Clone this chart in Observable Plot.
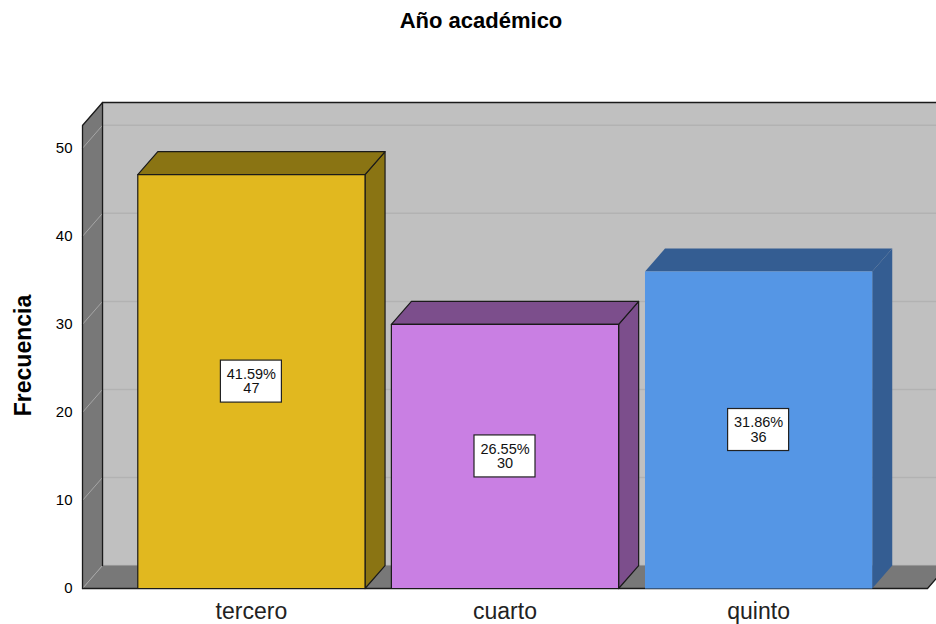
<!DOCTYPE html>
<html>
<head>
<meta charset="utf-8">
<script src="https://cdn.jsdelivr.net/npm/d3@7"></script>
<script src="https://cdn.jsdelivr.net/npm/@observablehq/plot@0.6"></script>
<style>
  html, body { margin: 0; padding: 0; background: #fff; overflow: hidden; }
  #chart svg { display: block; overflow: hidden; }
</style>
</head>
<body>
<div id="chart"></div>
<script>
// ---- data ----
const title = "Año académico";
const yLabel = "Frecuencia";
const categories = ["tercero", "cuarto", "quinto"];
const counts = [47, 30, 36];
const percentLabels = ["41.59%", "26.55%", "31.86%"];
const yTicks = [0, 10, 20, 30, 40, 50];

// ---- styles ----
const frontColors = ["#e1b81f", "#c97fe3", "#5596e5"];
const shadeColors = ["#8a7413", "#7c4e8c", "#345d92"];
const outlineColors = ["#1a1a1a", "#1a1a1a", "none"];
const wallColor = "#c0c0c0";
const sideWallColor = "#787878";

// 3D geometry in data units
const X0 = -0.166, XR = 3.166;     // front plane extent on x
const DX = 0.079, DY = 2.61;       // depth offset
const YMAX = 55.2;                 // back wall top
const YFRONT = YMAX - DY;          // front plane top
const HW = 0.448;                  // half bar width

const centers = categories.map((_, i) => i + 0.5);

// polygons
const polys = [];
function addPoly(id, pts, fill, stroke) {
  const closed = [...pts, pts[0]];
  closed.forEach(([x, y]) => polys.push({id, x, y, fill, stroke}));
}
// walls
addPoly("leftwall", [[X0, 0], [X0 + DX, DY], [X0 + DX, YMAX], [X0, YFRONT]], sideWallColor, "none");
addPoly("floor", [[X0, 0], [XR, 0], [XR + DX, DY], [X0 + DX, DY]], sideWallColor, "none");

const barPolys = [];
function addBarPoly(id, pts, fill, stroke) {
  const closed = [...pts, pts[0]];
  closed.forEach(([x, y]) => barPolys.push({id, x, y, fill, stroke}));
}
categories.forEach((c, i) => {
  const cx = centers[i], v = counts[i];
  const l = cx - HW, r = cx + HW;
  addBarPoly(c + "-side", [[r, 0], [r + DX, DY], [r + DX, v + DY], [r, v]], shadeColors[i], outlineColors[i]);
  addBarPoly(c + "-top", [[l, v], [l + DX, v + DY], [r + DX, v + DY], [r, v]], shadeColors[i], outlineColors[i]);
  addBarPoly(c + "-front", [[l, 0], [l, v], [r, v], [r, 0]], frontColors[i], outlineColors[i]);
});

const bars = categories.map((c, i) => ({
  cat: c, x: centers[i], v: counts[i],
  label: percentLabels[i] + "\n" + counts[i]
}));

// frame outline segments
const outline = [
  {id: "a", x: X0, y: 0}, {id: "a", x: X0, y: YFRONT}, {id: "a", x: X0 + DX, y: YMAX}, {id: "a", x: XR + DX + 1, y: YMAX},
  {id: "b", x: X0 + DX, y: DY}, {id: "b", x: X0 + DX, y: YMAX},
  {id: "c", x: X0, y: 0}, {id: "c", x: XR, y: 0}, {id: "c", x: XR + DX, y: DY}
];

const backGrid = yTicks.map(t => ({y: t + DY}));
const sideGrid = yTicks.flatMap(t => [{id: t, x: X0, y: t}, {id: t, x: X0 + DX, y: t + DY}]);

const font = "'Liberation Sans', Arial, Helvetica, sans-serif";

const chart = Plot.plot({
  width: 936,
  height: 624,
  marginLeft: 82,
  marginRight: 9,
  marginTop: 102,
  marginBottom: 36,
  style: {fontFamily: font, background: "#fff", color: "#000"},
  x: {domain: [X0, XR], axis: null},
  y: {domain: [0, YMAX], axis: null},
  color: {type: "identity"},
  marks: [
    // back wall
    Plot.rect([0], {x1: X0 + DX, x2: XR + DX + 1, y1: DY, y2: YMAX, fill: wallColor}),
    Plot.ruleY(backGrid, {y: "y", x1: X0 + DX, x2: XR + DX + 1, stroke: "#b2b2b2", strokeWidth: 1.5}),
    // side walls
    Plot.line(polys, {x: "x", y: "y", z: "id", fill: "fill", stroke: "stroke"}),
    Plot.line(sideGrid, {x: "x", y: "y", z: "id", stroke: "#a6a6a6", strokeWidth: 1}),
    Plot.line(outline, {x: "x", y: "y", z: "id", stroke: "#1a1a1a", strokeWidth: 1.3}),
    // bars
    Plot.line(barPolys, {x: "x", y: "y", z: "id", fill: "fill", stroke: "stroke", strokeWidth: 1.2, strokeLinejoin: "round"}),
    // value boxes
    Plot.rect(bars, {
      x1: "x", x2: "x", y1: d => d.v / 2, y2: d => d.v / 2,
      insetLeft: -30.5, insetRight: -30.5, insetTop: -21, insetBottom: -21,
      fill: "#fff", stroke: "#222", strokeWidth: 1.2
    }),
    Plot.text(bars, {x: "x", y: d => d.v / 2, text: "label", fontSize: 14.5, lineHeight: 1.0, fill: "#111"}),
    // axes & labels
    Plot.axisY({ticks: yTicks, tickSize: 0, tickPadding: 10, fontSize: 15, anchor: "left", label: null}),
    Plot.text(bars, {x: "x", y: 0, text: "cat", fontSize: 23, lineAnchor: "top", dy: 14, fill: "#222"}),
    Plot.text([yLabel], {frameAnchor: "left", textAnchor: "middle", rotate: -90, dx: -59, dy: 10, fontSize: 23, fontWeight: "bold"}),
    Plot.text([title], {frameAnchor: "top", dx: -24, dy: -90, fontSize: 22, fontWeight: "bold"})
  ]
});
document.getElementById("chart").appendChild(chart);
</script>
</body>
</html>
